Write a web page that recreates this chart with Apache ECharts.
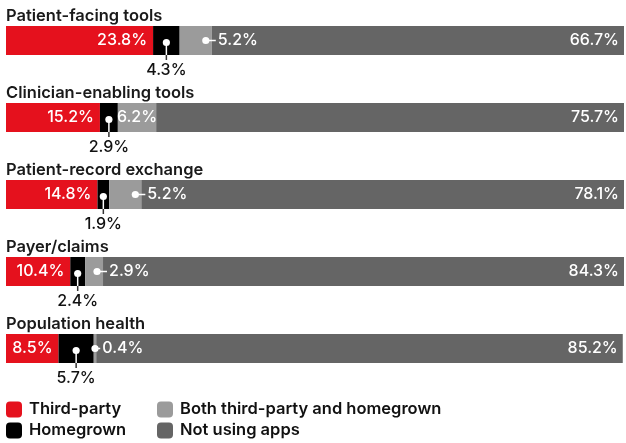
<!DOCTYPE html>
<html>
<head>
<meta charset="utf-8">
<script src="https://cdn.jsdelivr.net/npm/echarts@6/dist/echarts.min.js"></script>
<style>html,body{margin:0;padding:0;background:#fff}#c{width:626px;height:443px}</style>
</head>
<body>
<div id="c"></div>
<script>
const categories = ['Patient-facing tools','Clinician-enabling tools','Patient-record exchange','Payer/claims','Population health'];
const thirdParty = [23.8, 15.2, 14.8, 10.4, 8.5];
const homegrown = [4.3, 2.9, 1.9, 2.4, 5.7];
const both = [5.2, 6.2, 5.2, 2.9, 0.4];
const notUsing = [66.7, 75.7, 78.1, 84.3, 85.2];
const bothInside = [false, true, false, false, false];
const legendNames = ['Third-party','Homegrown','Both third-party and homegrown','Not using apps'];

const FONT = 'Inter';
const RED = '#e5111d', BLACK = '#000000', LIGHT = '#9b9b9b', DARK = '#656565';
const LBL = {fontSize:16, fontWeight:500, fontFamily:FONT};

const chart = echarts.init(document.getElementById('c'), null, {renderer:'canvas'});

const belowData = categories.map((c,i)=>[i, thirdParty[i], homegrown[i]]);
const sideData = categories.map((c,i)=>[i, thirdParty[i]+homegrown[i], both[i]]).filter((d,i)=>!bothInside[i]);
const HALF = 14.5;

const legendPos = [[6,401],[6,422],[157,401],[157,422]];
const legends = legendNames.map((n,i)=>({left:legendPos[i][0], top:legendPos[i][1], padding:0, itemWidth:16, itemHeight:16,
  itemGap:0, data:[n], selectedMode:false, textStyle:{fontSize:16.5, fontWeight:600, color:'#111', fontFamily:FONT, padding:[0,0,0,2]}}));

chart.setOption({
  animation:false,
  textStyle:{fontFamily:FONT},
  grid:{left:6, right:2, top:2, height:385, containLabel:false},
  xAxis:{type:'value', min:0, max:100, show:false},
  yAxis:{type:'category', data:categories, inverse:true,
    axisLine:{show:false}, axisTick:{show:false}, splitLine:{show:false},
    axisLabel:{inside:true, margin:0, align:'left', verticalAlign:'bottom', padding:[0,0,16,0],
      color:'#1a1a1a', fontSize:16.5, fontWeight:600, fontFamily:FONT}},
  legend:legends,
  series:[
    {name:'Third-party', type:'bar', stack:'s', data:thirdParty, barWidth:29, itemStyle:{color:RED},
     label:Object.assign({show:true, position:'insideRight', distance:6, color:'#fff', formatter:p=>p.value.toFixed(1)+'%'}, LBL)},
    {name:'Homegrown', type:'bar', stack:'s', data:homegrown, barWidth:29, itemStyle:{color:BLACK}},
    {name:'Both third-party and homegrown', type:'bar', stack:'s', barWidth:29, itemStyle:{color:LIGHT},
     data:both.map((v,i)=>bothInside[i]?{value:v,label:Object.assign({show:true, position:'inside', color:'#fff', formatter:p=>p.value.toFixed(1)+'%'}, LBL)}:v)},
    {name:'Not using apps', type:'bar', stack:'s', data:notUsing, barWidth:29, itemStyle:{color:DARK},
     label:Object.assign({show:true, position:'insideRight', distance:5, color:'#fff', formatter:p=>p.value.toFixed(1)+'%'}, LBL)},
    {type:'custom', data:belowData, z:10, encode:{x:[1,2], y:0},
     renderItem:function(params, api){
       const y = api.value(0), s = api.value(1), v = api.value(2);
       const p0 = api.coord([s, y]), p1 = api.coord([s+v, y]);
       const cx = (p0[0]+p1[0])/2, cy = p0[1];
       return {type:'group', children:[
         {type:'line', shape:{x1:cx,y1:cy+2,x2:cx,y2:cy+HALF}, style:{stroke:'#fff', lineWidth:1.5}},
         {type:'line', shape:{x1:cx,y1:cy+HALF,x2:cx,y2:cy+HALF+5}, style:{stroke:'#333', lineWidth:1.5}},
         {type:'circle', shape:{cx:cx, cy:cy+2, r:3.6}, style:{fill:'#fff'}},
         {type:'text', x:cx, y:cy+HALF+7, style:{text:v.toFixed(1)+'%', fill:'#111', align:'center', verticalAlign:'top', font:'500 16px '+FONT}}
       ]};
     }},
    {type:'custom', data:sideData, z:10, encode:{x:[1,2], y:0},
     renderItem:function(params, api){
       const y = api.value(0), s = api.value(1), v = api.value(2);
       const p0 = api.coord([s, y]), p1 = api.coord([s+v, y]);
       const e = p1[0], cy = p0[1];
       const dx = Math.max(e-6, (p0[0]+e)/2);
       return {type:'group', children:[
         {type:'line', shape:{x1:dx,y1:cy,x2:e+4,y2:cy}, style:{stroke:'#fff', lineWidth:1.5}},
         {type:'circle', shape:{cx:dx, cy:cy, r:3.6}, style:{fill:'#fff'}},
         {type:'text', x:e+6, y:cy, style:{text:v.toFixed(1)+'%', fill:'#fff', align:'left', verticalAlign:'middle', font:'500 16px '+FONT}}
       ]};
     }}
  ]
});
</script>
</body>
</html>
